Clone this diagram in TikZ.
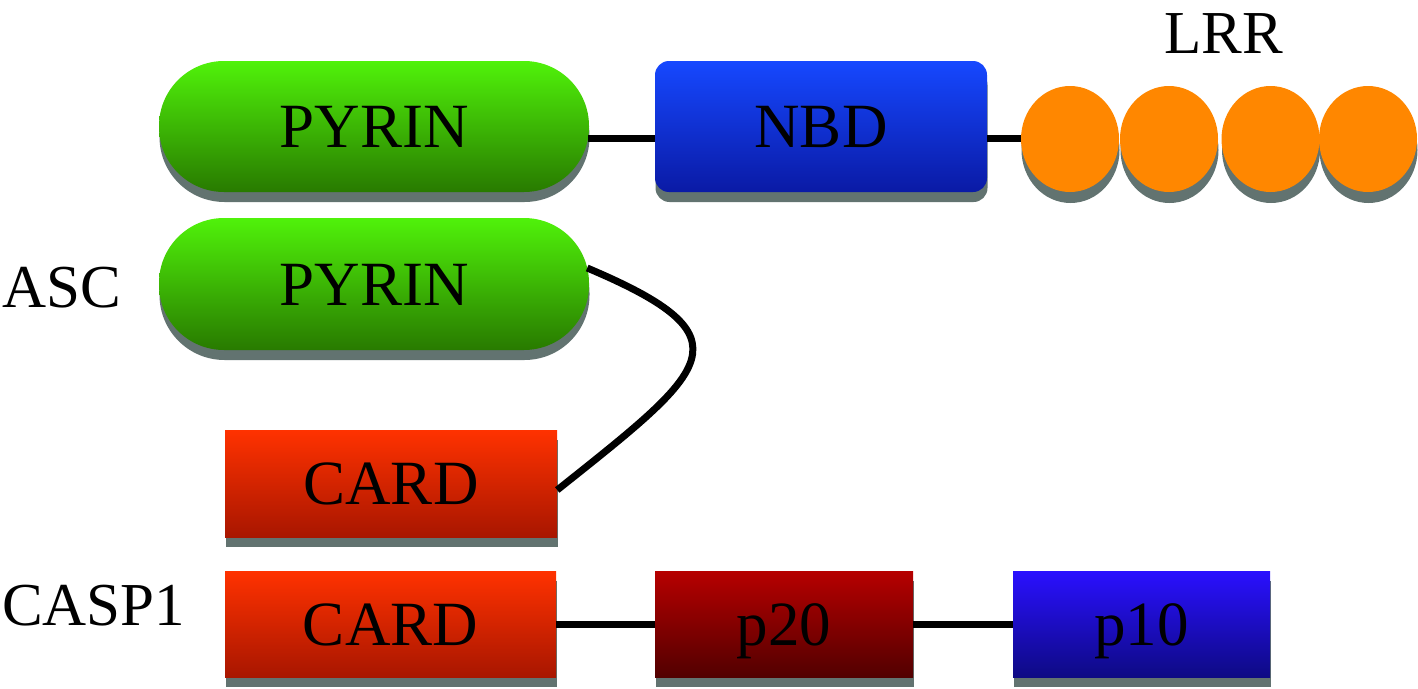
\documentclass[tikz,border=0pt]{standalone}
\usepackage{fontspec}
\setmainfont{Liberation Serif}
\usetikzlibrary{shadows,shapes.geometric}
\definecolor{shadowc}{RGB}{98,115,112}
\definecolor{greenT}{RGB}{80,242,10}
\definecolor{greenB}{RGB}{40,122,0}
\definecolor{nbdT}{RGB}{22,72,255}
\definecolor{nbdB}{RGB}{10,26,165}
\definecolor{cardT}{RGB}{255,50,0}
\definecolor{cardB}{RGB}{168,22,0}
\definecolor{ptwT}{RGB}{182,0,0}
\definecolor{ptwB}{RGB}{82,0,0}
\definecolor{ptenT}{RGB}{42,16,255}
\definecolor{ptenB}{RGB}{14,10,132}
\definecolor{lrrc}{RGB}{255,135,0}
\begin{document}
\begin{tikzpicture}[x=1pt,y=-1pt,
  dom/.style={inner sep=0pt, text height=42pt, text depth=0pt,
    font=\fontsize{63}{70}\selectfont,
    drop shadow={shadow xshift=0.5pt, shadow yshift=-10pt, fill=shadowc, opacity=1}},
  pill/.style={dom, rectangle, rounded corners=65pt, top color=greenT, bottom color=greenB,
    minimum width=430pt, minimum height=131pt},
  nbdbox/.style={dom, rectangle, rounded corners=14pt, top color=nbdT, bottom color=nbdB},
  cardbox/.style={dom, rectangle, top color=cardT, bottom color=cardB},
  ptwbox/.style={dom, rectangle, top color=ptwT, bottom color=ptwB},
  ptenbox/.style={dom, rectangle, top color=ptenT, bottom color=ptenB},
  lrrball/.style={ellipse, inner sep=0pt, minimum width=98pt, minimum height=106pt,
    fill=lrrc, drop shadow={shadow xshift=0.5pt, shadow yshift=-11pt, fill=shadowc, opacity=1}},
  lab/.style={inner sep=0pt, font=\fontsize{61}{70}\selectfont},
  link/.style={line width=7pt, black}
]
\useasboundingbox (0,0) rectangle (1418,688);

% top row (NLRP)
\node[pill] (pyr1) at (374,126.5) {PYRIN};
\node[nbdbox, minimum width=332pt, minimum height=131pt] (nbd) at (821,126.5) {NBD};
\draw[link] ([yshift=-11.5pt,xshift=-1pt]pyr1.east) -- ([yshift=-11.5pt]nbd.west);
\draw[link] ([yshift=-11.5pt]nbd.east) -- (1024,138);
\node[lrrball] (l1) at (1070,139) {};
\node[lrrball] (l2) at (1169,139) {};
\node[lrrball] (l3) at (1270.5,139) {};
\node[lrrball] (l4) at (1368,139) {};
\node[lab, anchor=base] (lrr) at (1224,53) {LRR};

% ASC
\node[lab, anchor=base west] (asc) at (2,307) {ASC};
\node[pill, minimum height=132pt] (pyr2) at (374,284) {PYRIN};
\node[cardbox, minimum width=332pt, minimum height=107pt] (card1) at (391,483.5) {CARD};
\draw[link] ([yshift=16pt,xshift=-2pt]pyr2.east) .. controls (753,338) and (709,369) .. ([yshift=-6.5pt]card1.east);

% CASP1
\node[lab, anchor=base west] (casp) at (2,625) {CASP1};
\node[cardbox, minimum width=331pt, minimum height=106pt] (card2) at (390.5,624) {CARD};
\node[ptwbox, minimum width=258pt, minimum height=106pt] (p20) at (784,624) {p20};
\node[ptenbox, minimum width=257pt, minimum height=106pt] (p10) at (1141.5,624) {p10};
\draw[link] (card2.east) -- (p20.west);
\draw[link] (p20.east) -- (p10.west);
\end{tikzpicture}
\end{document}
